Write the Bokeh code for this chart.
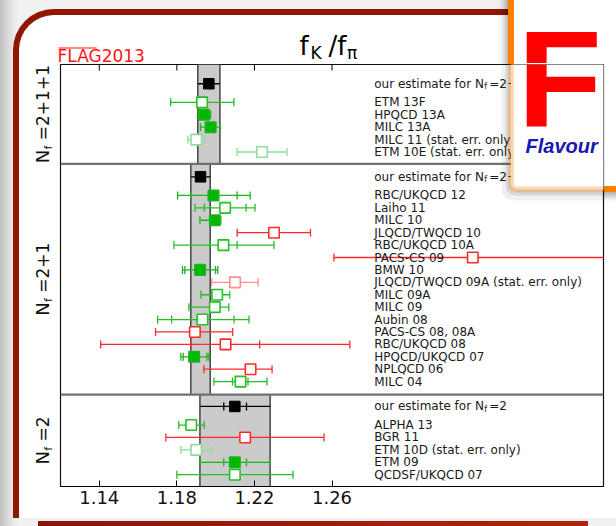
import numpy as np
from bokeh.plotting import figure
from bokeh.layouts import column, row
from bokeh.models import (Range1d, FixedTicker, Label, Span, BoxAnnotation,
                          ColumnDataSource, InlineStyleSheet)
from bokeh.core.properties import value
from bokeh.embed import file_html
from bokeh.resources import INLINE

nan = np.nan

# ---------------------------------------------------------------- data
x_ticks = [1.14, 1.18, 1.22, 1.26]
x_limits = [1.12, 1.40]
group_names = ["2+1+1", "2+1", "2"]

# FLAG averages (band) per Nf group
est_center = [1.1965, 1.1922, 1.2099]
est_lower = [1.1908, 1.1872, 1.1919]
est_upper = [1.2022, 1.1972, 1.2281]
est_stat_lower = [nan, nan, 1.2042]
est_stat_upper = [nan, nan, 1.2159]

# Nf = 2+1+1
nf2111_names = ["ETM 13F", "HPQCD 13A", "MILC 13A",
                "MILC 11 (stat. err. only)", "ETM 10E (stat. err. only)"]
nf2111_center = [1.1930, 1.1941, 1.1974, 1.1900, 1.2239]
nf2111_lower = [1.1768, 1.1910, 1.1922, 1.1857, 1.2111]
nf2111_upper = [1.2094, 1.1974, 1.2023, 1.1943, 1.2368]
nf2111_stat_lower = [nan, nan, nan, nan, nan]
nf2111_stat_upper = [nan, nan, nan, nan, nan]
nf2111_status = ["ok", "avg", "avg", "ok_prelim", "ok_prelim"]

# Nf = 2+1
nf21_names = ["RBC/UKQCD 12", "Laiho 11", "MILC 10", "JLQCD/TWQCD 10",
              "RBC/UKQCD 10A", "PACS-CS 09", "BMW 10",
              "JLQCD/TWQCD 09A (stat. err. only)", "MILC 09A", "MILC 09",
              "Aubin 08", "PACS-CS 08, 08A", "RBC/UKQCD 08",
              "HPQCD/UKQCD 07", "NPLQCD 06", "MILC 04"]
nf21_center = [1.1989, 1.2049, 1.1996, 1.2301, 1.2040, 1.3326, 1.1920,
               1.2100, 1.2008, 1.1996, 1.1932, 1.1893, 1.2051, 1.1889,
               1.2180, 1.2128]
nf21_lower = [1.1804, 1.1894, 1.1919, 1.2111, 1.1785, 1.2610, 1.1829,
              1.1980, 1.1924, 1.1862, 1.1701, 1.1690, 1.1407, 1.1821,
              1.1939, 1.1991]
nf21_upper = [1.2178, 1.2203, 1.2027, 1.2489, 1.2301, 1.4046, 1.2011,
              1.2219, 1.2073, 1.2068, 1.2172, 1.2088, 1.2692, 1.1965,
              1.2291, 1.2265]
nf21_stat_lower = [1.1872, 1.1942, nan, nan, 1.1970, nan, 1.1841, nan,
                   nan, nan, 1.1773, nan, 1.1872, 1.1833, nan, 1.2087]
nf21_stat_upper = [1.2111, 1.2157, nan, nan, 1.2111, nan, 1.1999, nan,
                   nan, nan, 1.2095, nan, 1.2227, 1.1955, nan, 1.2167]
nf21_status = ["avg", "ok", "avg", "bad", "ok", "bad", "avg", "bad_prelim",
               "ok", "ok", "ok", "bad", "bad", "avg", "bad", "ok"]

# Nf = 2
nf2_names = ["ALPHA 13", "BGR 11", "ETM 10D (stat. err. only)", "ETM 09",
             "QCDSF/UKQCD 07"]
nf2_center = [1.1874, 1.2152, 1.1900, 1.2099, 1.2099]
nf2_lower = [1.1810, 1.1743, 1.1821, 1.1920, 1.1800]
nf2_upper = [1.1941, 1.2559, 1.1982, 1.2281, 1.2399]
nf2_stat_lower = [nan, nan, nan, 1.2042, nan]
nf2_stat_upper = [nan, nan, nan, 1.2159, nan]
nf2_status = ["ok", "bad", "ok_prelim", "avg", "ok"]

groups = [
    (nf2111_names, nf2111_center, nf2111_lower, nf2111_upper,
     nf2111_stat_lower, nf2111_stat_upper, nf2111_status),
    (nf21_names, nf21_center, nf21_lower, nf21_upper,
     nf21_stat_lower, nf21_stat_upper, nf21_status),
    (nf2_names, nf2_center, nf2_lower, nf2_upper,
     nf2_stat_lower, nf2_stat_upper, nf2_status),
]

# ---------------------------------------------------------------- styles / layout
LINE = {"avg": "#1fb31f", "ok": "#27bf27", "ok_prelim": "#8fdb9d",
        "bad": "#ff2a2a", "bad_prelim": "#ff8f8f"}
FILL = {"avg": "#00b800", "ok": "white", "ok_prelim": "white",
        "bad": "white", "bad_prelim": "white"}

W, H = 616, 526
TOP_H = 63          # height of the title strip
LEFT_W = 59         # width of the Nf label strip
FRAME_T, FRAME_B = 64, 486
PAD_TOP = [1.55, 1.05, 0.95]
PAD_BOTTOM = [0.95, 1.05, 0.95]
EST_GAP = 1.5
LABEL_X = 1.2818
FONT = "DejaVu Sans"
MID = 0.3           # em distance from baseline up to the "middle" anchor

CSS = """
:host { position: relative; overflow: hidden; isolation: isolate;
  background:
    linear-gradient(to right, #8a1406, #b5220f) 38px 521px / 550px 30px no-repeat,
    linear-gradient(to right, #c0c0c0 0px, #d6d6d6 7px, #e8e8e8 13px, #f1f1f1 18px); }
:host::before { content: ""; position: absolute; z-index: -1;
  left: 13px; top: 8.5px; width: 720px; height: 509px; box-sizing: border-box;
  border-left: 6.5px solid #921500; border-top: 6.5px solid #921500;
  border-top-left-radius: 41px; background: white; }
:host::after { content: ""; position: absolute; z-index: -1;
  left: 507.5px; top: -40px; width: 200px; height: 232px; box-sizing: border-box;
  border: 6px solid #ff8000; border-radius: 7px; background: white;
  box-shadow: -3px 4px 7px rgba(0,0,0,0.35); }
"""

# ---------------------------------------------------------------- rows
y = 0.0
panel_top, panel_bot, est_y = [], [], []
rows = dict(y=[], center=[], lower=[], upper=[], slo=[], shi=[],
            line=[], fill=[], name=[])
for g, grp in enumerate(groups):
    names, cen, lo, hi, slo, shi, status = grp
    panel_top.append(y)
    ey = y + PAD_TOP[g]
    est_y.append(ey)
    ry = ey + EST_GAP + np.arange(len(names))
    rows["y"] += list(ry)
    rows["center"] += cen
    rows["lower"] += lo
    rows["upper"] += hi
    rows["slo"] += slo
    rows["shi"] += shi
    rows["line"] += [LINE[s] for s in status]
    rows["fill"] += [FILL[s] for s in status]
    rows["name"] += names
    y = ry[-1] + PAD_BOTTOM[g]
    panel_bot.append(y)
total = y
ppr = (FRAME_B - FRAME_T) / total

src = ColumnDataSource(rows)
est = ColumnDataSource(dict(y=est_y, center=est_center, lower=est_lower,
                            upper=est_upper, slo=est_stat_lower,
                            shi=est_stat_upper, top=panel_top,
                            bot=panel_bot))


def bare(**kw):
    f = figure(title=None, x_axis_location=None, y_axis_location=None,
               toolbar_location=None, output_backend="svg",
               outline_line_color=None, background_fill_color=None,
               border_fill_color=None, **kw)
    f.grid.visible = False
    return f


# ---------------------------------------------------------------- main plot
yr = Range1d(total, 0)
fig = figure(width=W - LEFT_W, height=H - TOP_H, title=None,
             x_range=Range1d(*x_limits), y_range=yr, y_axis_location=None,
             output_backend="svg", toolbar_location=None,
             min_border_left=1, min_border_right=13,
             min_border_top=FRAME_T - TOP_H, min_border_bottom=H - FRAME_B,
             background_fill_color="white", border_fill_color=None)
fig.grid.visible = False
fig.outline_line_color = "#111111"
fig.outline_line_width = 1.2

xa = fig.xaxis[0]
xa.ticker = FixedTicker(ticks=x_ticks)
xa.major_tick_in = 6
xa.major_tick_out = 0
xa.minor_tick_line_color = None
xa.major_tick_line_color = "black"
xa.axis_line_color = "black"
xa.major_label_standoff = 4
xa.major_label_text_font = FONT
xa.major_label_text_font_size = "18px"
xa.major_label_text_color = "#111111"

# ticks along the top edge
fig.scatter(x=x_ticks, y=[0] * len(x_ticks), marker="dash", angle=np.pi / 2,
            size=12, line_color="black", line_width=1)

# bands
fig.quad(left="lower", right="upper", top="top", bottom="bot", source=est,
         fill_color="#cbcbcb", line_color=None)
fig.segment(x0="lower", y0="top", x1="lower", y1="bot", source=est,
            line_color="#444444", line_width=1.5)
fig.segment(x0="upper", y0="top", x1="upper", y1="bot", source=est,
            line_color="#444444", line_width=1.5)

# error bars and points
fig.segment(x0="lower", y0="y", x1="upper", y1="y", source=src,
            line_color="line", line_width=1.3)
for col in ["lower", "upper", "slo", "shi"]:
    fig.scatter(x=col, y="y", source=src, marker="dash", angle=np.pi / 2,
                size=8, line_color="line", line_width=1.3)
fig.scatter(x="center", y="y", source=src, marker="square", size=10.5,
            fill_color="fill", line_color="line", line_width=1.6)

fig.segment(x0="lower", y0="y", x1="upper", y1="y", source=est,
            line_color="black", line_width=1.3)
for col in ["slo", "shi"]:
    fig.scatter(x=col, y="y", source=est, marker="dash", angle=np.pi / 2,
                size=8, line_color="black", line_width=1.3)
fig.scatter(x="center", y="y", source=est, marker="square", size=10.5,
            fill_color="black", line_color="black")

# labels
fig.text(x=LABEL_X, y="y", text="name", source=src, text_font=value(FONT),
         text_font_size=value("12px"), text_baseline="middle",
         text_color="#1a1a1a")
fig.text(x=[LABEL_X] * 3, y=est_y, text=["our estimate for N"] * 3,
         text_font=value(FONT), text_font_size=value("12px"),
         text_baseline="middle", text_color="#1a1a1a")
fig.text(x=[LABEL_X] * 3, y=est_y, text=["f"] * 3, x_offset=110, y_offset=3,
         text_font=value(FONT), text_font_size=value("8px"),
         text_baseline="middle", text_color="#1a1a1a")
fig.text(x=[LABEL_X] * 3, y=est_y, text=[" =" + g for g in group_names],
         x_offset=115, text_font=value(FONT), text_font_size=value("12px"),
         text_baseline="middle", text_color="#1a1a1a")

for yb in panel_bot[:-1]:
    fig.add_layout(Span(location=yb, dimension="width", line_color="#707070",
                        line_width=2.2))

# logo box over the plot frame (canvas units of this figure)
OX, OY = LEFT_W, TOP_H


def cbox(l, r, t, b, **kw):
    fig.add_layout(BoxAnnotation(left=l - OX, right=r - OX, top=t - OY,
                                 bottom=b - OY, left_units="canvas",
                                 right_units="canvas", top_units="canvas",
                                 bottom_units="canvas", level="overlay", **kw))


cbox(501, 760, -60, 200, fill_color="black", fill_alpha=0.06,
     line_color=None, border_radius=12)
cbox(505, 760, -60, 195, fill_color="black", fill_alpha=0.10,
     line_color=None, border_radius=9)
cbox(510.5, 760, -60, 189, fill_color="white", fill_alpha=1,
     line_color="#ff8000", line_width=6, border_radius=6)

LOGO_SIZE = 138
logo_mid = 128 - MID * LOGO_SIZE - 8
fig.add_layout(Label(x=517 - OX, y=logo_mid - OY, x_units="canvas",
                     y_units="canvas", text="F", text_font="Liberation Sans",
                     text_font_style="bold", text_font_size=f"{LOGO_SIZE}px",
                     text_color="#ff0000", text_baseline="middle",
                     level="overlay"))
fig.add_layout(Label(x=525 - OX, y=151.5 - MID * 20 - OY, x_units="canvas",
                     y_units="canvas", text="Flavour L",
                     text_font="Liberation Sans",
                     text_font_style="bold italic", text_font_size="20px",
                     text_color="#1818b0", text_baseline="middle",
                     level="overlay"))

# ---------------------------------------------------------------- title strip
top = bare(width=W, height=TOP_H, x_range=Range1d(0, W),
           y_range=Range1d(TOP_H, 0), min_border_left=0, min_border_right=0,
           min_border_top=0, min_border_bottom=0)
for txt, x0, base, size in [("f", 299, 53, 26), ("K", 310, 57.5, 17),
                            ("/f", 328, 53, 26), ("π", 346.5, 57.5, 17)]:
    top.text(x=[x0], y=[base - MID * size], text=[txt],
             text_font=value(FONT), text_font_size=value(f"{size}px"),
             text_color="black", text_baseline="middle")
top.text(x=[57], y=[60.5 - MID * 17], text=["FLAG2013"], text_font=value(FONT),
         text_font_size=value("17px"), text_color="#ff1414",
         text_baseline="middle")
top.segment(x0=[58], y0=[47.5], x1=[96], y1=[47.5], line_color="#ff1414",
            line_width=1.2)
top.text(x=[517], y=[TOP_H - 4], y_offset=logo_mid - (TOP_H - 4), text=["F"],
         text_font=value("Liberation Sans"), text_font_style="bold",
         text_font_size=value(f"{LOGO_SIZE}px"), text_color="#ff0000",
         text_baseline="middle")

# ---------------------------------------------------------------- Nf labels strip
left = bare(width=LEFT_W, height=H - TOP_H, x_range=Range1d(0, LEFT_W),
            y_range=yr, min_border_left=0, min_border_right=0,
            min_border_top=FRAME_T - TOP_H, min_border_bottom=H - FRAME_B)
DV = {"=": 0.838, "2": 0.636, "+": 0.838, "1": 0.636}
BASE_X = 47.5
for g, name in enumerate(group_names):
    yc = 0.5 * (panel_top[g] + panel_bot[g])
    rest = "=" + name
    length = 23 + sum(DV[c] for c in rest) * 17
    for txt, along, across, size in [("N", 0, 0, 18),
                                     ("f", 13.8, 3.5, 11),
                                     (rest, 23, 0, 17)]:
        left.text(x=[BASE_X + across - MID * size],
                  y=[yc + (0.5 * length - along) / ppr],
                  text=[txt], angle=np.pi / 2, text_font=value(FONT),
                  text_font_size=value(f"{size}px"), text_color="#111111",
                  text_baseline="middle", text_align="left")

p = column(top, row(left, fig), stylesheets=[InlineStyleSheet(css=CSS)])
open("out.html", "w").write(file_html(p, INLINE))
